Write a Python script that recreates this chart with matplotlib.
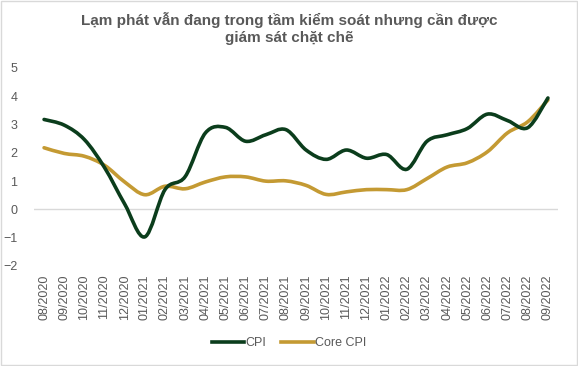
import matplotlib
matplotlib.use("Agg")
import matplotlib.pyplot as plt
import numpy as np
from matplotlib.path import Path
from matplotlib.patches import PathPatch, Rectangle
from matplotlib.lines import Line2D

months = ["08/2020", "09/2020", "10/2020", "11/2020", "12/2020", "01/2021", "02/2021",
          "03/2021", "04/2021", "05/2021", "06/2021", "07/2021", "08/2021", "09/2021",
          "10/2021", "11/2021", "12/2021", "01/2022", "02/2022", "03/2022", "04/2022",
          "05/2022", "06/2022", "07/2022", "08/2022", "09/2022"]
cpi = [3.18, 2.98, 2.47, 1.48, 0.19, -0.97, 0.70, 1.16, 2.70, 2.90, 2.41, 2.64, 2.82,
       2.10, 1.77, 2.10, 1.81, 1.94, 1.42, 2.41, 2.64, 2.86, 3.37, 3.14, 2.89, 3.94]
core_cpi = [2.18, 1.98, 1.88, 1.56, 0.97, 0.52, 0.82, 0.73, 0.97, 1.15, 1.15, 1.00, 1.01,
            0.85, 0.53, 0.62, 0.70, 0.70, 0.70, 1.09, 1.50, 1.65, 2.04, 2.71, 3.10, 3.87]

plt.rcParams['font.family'] = ['Liberation Sans', 'DejaVu Sans']
TXT = '#595959'
CPI_C = '#0B3D1C'
CORE_C = '#C49A33'

fig = plt.figure(figsize=(5.78, 3.66), dpi=100)
fig.patches.append(Rectangle((0.002, 0.003), 0.996, 0.994, transform=fig.transFigure,
                             fill=False, edgecolor='#D9D9D9', linewidth=1))
ax = fig.add_axes([34/578, 1-266/366, (558-34)/578, (266-68)/366])


def smooth_path(xs, ys, t=1/6):
    xs = np.asarray(xs, float); ys = np.asarray(ys, float)
    n = len(xs)
    verts = [(xs[0], ys[0])]
    codes = [Path.MOVETO]
    for i in range(n - 1):
        p0 = (xs[max(i-1, 0)], ys[max(i-1, 0)])
        p1 = (xs[i], ys[i])
        p2 = (xs[i+1], ys[i+1])
        p3 = (xs[min(i+2, n-1)], ys[min(i+2, n-1)])
        c1 = (p1[0] + (p2[0]-p0[0])*t, p1[1] + (p2[1]-p0[1])*t)
        c2 = (p2[0] - (p3[0]-p1[0])*t, p2[1] - (p3[1]-p1[1])*t)
        verts += [c1, c2, p2]
        codes += [Path.CURVE4]*3
    return Path(verts, codes)


x = np.arange(len(months))
ax.axhline(0, color='#D9D9D9', linewidth=1, zorder=1)
for vals, col in [(core_cpi, CORE_C), (cpi, CPI_C)]:
    ax.add_patch(PathPatch(smooth_path(x, vals), facecolor='none', edgecolor=col,
                           linewidth=2.6, capstyle='round', joinstyle='round', zorder=3))

ax.set_xlim(-0.5, len(months) - 0.5)
ax.set_ylim(-2, 5)
ax.set_yticks(range(-2, 6))
ax.set_xticks(x)
ax.set_xticklabels(months, rotation=90)
for s in ax.spines.values():
    s.set_visible(False)
ax.tick_params(axis='both', length=0, colors=TXT, labelsize=9)
ax.tick_params(axis='y', pad=12)
ax.tick_params(axis='x', pad=6)
for lbl in ax.get_yticklabels():
    lbl.set_horizontalalignment('right')

fig.text(0.5, 1-20/366, "Lạm phát vẫn đang trong tầm kiểm soát nhưng cần được",
         ha='center', va='center', fontsize=11, fontweight='bold', color=TXT)
fig.text(0.5, 1-38/366, "giám sát chặt chẽ",
         ha='center', va='center', fontsize=11, fontweight='bold', color=TXT)

handles = [Line2D([], [], color=CPI_C, linewidth=2.6), Line2D([], [], color=CORE_C, linewidth=2.6)]
fig.legend(handles, ["CPI", "Core CPI"], loc='center', bbox_to_anchor=(0.5, 1-343/366),
           ncol=2, frameon=False, fontsize=9, labelcolor=TXT, handlelength=2.6,
           handletextpad=0.1, columnspacing=1.2)

fig.savefig("out.png", dpi=100)
